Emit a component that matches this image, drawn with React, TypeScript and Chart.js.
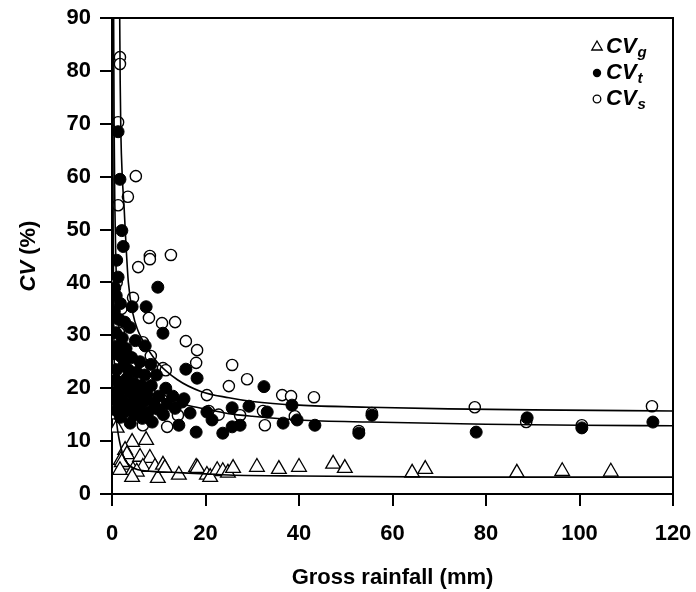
import React, { useEffect, useRef } from "react";
import { Chart, registerables } from "chart.js";

Chart.register(...registerables);

// ---- data ----
const cvgX = [0.8, 1.2, 0.9, 1.0, 4.3, 7.3, 2.8, 3.2, 1.9, 2.4, 2.1, 1.7, 6.0, 8.1, 4.5, 6.6, 5.3, 4.3, 9.8, 9.2, 10.9, 11.3, 14.3, 18.0, 18.3, 20.3, 21.0, 22.5, 23.7, 24.8, 25.9, 31.0, 35.7, 40.0, 47.3, 49.8, 64.2, 67.0, 86.6, 96.3, 106.7];
const cvgY = [23.0, 17.0, 15.0, 12.5, 9.8, 10.2, 8.3, 7.5, 6.4, 5.5, 6.0, 4.5, 7.0, 6.8, 4.5, 5.1, 4.2, 3.2, 3.0, 5.1, 5.5, 4.9, 3.6, 5.1, 4.9, 3.6, 3.2, 4.5, 4.3, 4.0, 4.9, 5.1, 4.7, 5.1, 5.7, 4.9, 4.0, 4.7, 4.0, 4.3, 4.2];

const cvtX = [1.3, 1.7, 2.1, 2.4, 1.0, 1.3, 0.6, 9.8, 0.9, 1.8, 4.3, 7.3, 0.5, 1.5, 2.7, 3.8, 10.9, 0.8, 2.2, 5.0, 7.1, 1.2, 3.0, 0.6, 1.9, 4.2, 6.0, 8.3, 2.6, 15.8, 1.0, 3.5, 5.3, 7.0, 9.5, 3.2, 18.2, 0.7, 1.8, 4.6, 6.3, 8.4, 11.5, 2.5, 32.5, 1.2, 3.8, 5.6, 7.5, 10.0, 13.0, 0.6, 2.2, 15.4, 4.5, 6.8, 8.9, 15.0, 11.8, 1.5, 3.3, 5.8, 9.9, 13.5, 25.7, 29.3, 38.5, 0.9, 2.6, 7.8, 16.7, 20.3, 33.2, 4.8, 11.0, 55.6, 1.8, 6.5, 21.4, 39.6, 88.8, 3.9, 8.6, 14.3, 36.6, 115.7, 25.7, 27.4, 43.4, 100.5, 18.0, 23.7, 52.8, 77.9];
const cvtY = [68.5, 59.5, 49.8, 46.8, 44.2, 41.0, 39.0, 39.1, 37.5, 36.0, 35.4, 35.4, 34.5, 33.0, 32.5, 31.5, 30.4, 30.5, 29.5, 29.0, 28.0, 28.0, 27.5, 26.5, 26.0, 25.8, 25.0, 24.5, 24.5, 23.6, 23.5, 23.5, 23.0, 22.5, 22.5, 21.9, 21.9, 21.5, 21.0, 21.0, 20.5, 20.5, 20.0, 20.0, 20.3, 19.5, 19.2, 19.0, 18.8, 18.5, 18.5, 18.0, 17.8, 18.0, 17.5, 17.5, 17.2, 17.4, 17.0, 16.8, 16.5, 16.2, 16.0, 16.2, 16.3, 16.6, 16.8, 15.8, 15.5, 15.5, 15.3, 15.5, 15.5, 15.0, 15.0, 14.9, 14.5, 14.3, 14.0, 14.0, 14.4, 13.4, 13.6, 13.0, 13.4, 13.6, 12.7, 13.0, 13.0, 12.5, 11.7, 11.5, 11.5, 11.7];

const cvsX = [1.7, 1.7, 1.3, 5.1, 3.4, 1.3, 8.1, 8.1, 12.6, 5.6, 1.0, 4.5, 2.0, 7.9, 10.7, 13.5, 1.5, 6.6, 15.8, 18.2, 3.0, 8.3, 18.0, 25.7, 10.9, 11.5, 2.5, 28.9, 25.0, 4.0, 1.0, 8.0, 20.3, 36.4, 38.3, 43.2, 10.7, 5.5, 20.7, 32.3, 77.6, 115.5, 55.6, 14.1, 27.4, 39.1, 22.8, 88.6, 100.5, 32.7, 6.6, 11.8, 52.8];
const cvsY = [82.6, 81.3, 70.3, 60.1, 56.2, 54.6, 45.0, 44.4, 45.2, 42.9, 40.0, 37.1, 35.0, 33.3, 32.3, 32.5, 30.5, 28.7, 28.9, 27.2, 26.5, 26.1, 24.8, 24.4, 23.8, 23.4, 23.0, 21.7, 20.4, 20.0, 19.0, 19.5, 18.7, 18.7, 18.5, 18.3, 17.8, 16.0, 15.7, 15.7, 16.4, 16.6, 15.3, 14.9, 14.9, 14.7, 15.0, 13.6, 13.0, 13.0, 13.0, 12.7, 11.9];

// fitted curves
const fitSX = [1.65, 1.75, 1.9, 2.2, 2.6, 3.0, 3.5, 4.5, 5.5, 6.6, 9.6, 14, 19, 25, 30, 40, 55, 72, 90, 120];
const fitSY = [90, 78, 68, 60, 54, 47, 40, 34, 31, 29, 25, 21.6, 19.4, 18.2, 17.5, 16.8, 16.4, 16.1, 15.9, 15.7];
const fitTX = [0.35, 0.45, 0.6, 0.8, 1.1, 1.5, 2.0, 2.8, 4, 5.5, 7.5, 10, 13, 17, 21, 25, 30, 40, 55, 80, 100, 120];
const fitTY = [90, 70, 55, 45, 37, 31.5, 27.5, 24.5, 22, 20.5, 19.3, 18.4, 17.5, 16.6, 15.9, 15.2, 14.7, 14.0, 13.6, 13.2, 13.0, 12.9];
const fitGX = [0.15, 0.25, 0.4, 0.6, 0.9, 1.3, 1.7, 2.3, 2.8, 4, 5.6, 8, 12.8, 20, 25, 40, 72, 120];
const fitGY = [90, 50, 30, 20, 14.5, 11.5, 9.6, 7.5, 6.4, 5.2, 4.6, 4.3, 4.1, 3.8, 3.6, 3.4, 3.2, 3.2];

const xTicks = [0, 20, 40, 60, 80, 100, 120];
const yTicks = [0, 10, 20, 30, 40, 50, 60, 70, 80, 90];
const xTitle = "Gross rainfall (mm)";
const legendSubs = ["g", "t", "s"];

const pts = (xs: number[], ys: number[]) => xs.map((x, i) => ({ x, y: ys[i] }));

const FONT = '"Liberation Sans", Arial, sans-serif';

const deco = {
  id: "deco",
  afterDraw(chart: any) {
    const { ctx, chartArea: a } = chart;
    ctx.save();
    ctx.strokeStyle = "#000";
    ctx.lineWidth = 2;
    ctx.beginPath();
    ctx.moveTo(a.left, a.top);
    ctx.lineTo(a.right, a.top);
    ctx.lineTo(a.right, a.bottom);
    ctx.stroke();

    ctx.fillStyle = "#000";
    ctx.textBaseline = "middle";
    ctx.textAlign = "center";
    ctx.font = `bold 22px ${FONT}`;
    ctx.fillText(xTitle, (a.left + a.right) / 2, 578);

    // y title: italic CV + " (%)"
    ctx.save();
    ctx.translate(29, (a.top + a.bottom) / 2);
    ctx.rotate(-Math.PI / 2);
    ctx.textAlign = "left";
    ctx.font = `italic bold 22px ${FONT}`;
    const w1 = ctx.measureText("CV").width;
    ctx.font = `bold 22px ${FONT}`;
    const w2 = ctx.measureText(" (%)").width;
    const sx = -(w1 + w2) / 2;
    ctx.font = `italic bold 22px ${FONT}`;
    ctx.fillText("CV", sx, 0);
    ctx.font = `bold 22px ${FONT}`;
    ctx.fillText(" (%)", sx + w1, 0);
    ctx.restore();

    // legend
    const rows = [47, 73, 99];
    const mx = 597;
    ctx.lineWidth = 1.3;
    ctx.strokeStyle = "#000";
    rows.forEach((ry, i) => {
      ctx.beginPath();
      if (i === 0) {
        const r = 6;
        ctx.moveTo(mx, ry - r);
        ctx.lineTo(mx + r * 0.866, ry + r * 0.5);
        ctx.lineTo(mx - r * 0.866, ry + r * 0.5);
        ctx.closePath();
        ctx.fillStyle = "#fff";
        ctx.fill();
        ctx.stroke();
      } else if (i === 1) {
        ctx.arc(mx, ry, 4.2, 0, Math.PI * 2);
        ctx.fillStyle = "#000";
        ctx.fill();
      } else {
        ctx.arc(mx, ry, 3.8, 0, Math.PI * 2);
        ctx.fillStyle = "#fff";
        ctx.fill();
        ctx.stroke();
      }
      ctx.fillStyle = "#000";
      ctx.textAlign = "left";
      ctx.font = `italic bold 22px ${FONT}`;
      ctx.fillText("CV", 606, ry);
      const cw = ctx.measureText("CV").width;
      ctx.font = `italic bold 15px ${FONT}`;
      ctx.fillText(legendSubs[i], 606 + cw + 1, ry + 6);
    });
    ctx.restore();
  },
};

export default function App() {
  const ref = useRef<HTMLCanvasElement | null>(null);
  useEffect(() => {
    if (!ref.current) return;
    const curve = (xs: number[], ys: number[]) => ({
      type: "line" as const,
      data: pts(xs, ys),
      showLine: true,
      borderColor: "#000",
      borderWidth: 1.6,
      pointRadius: 0,
      cubicInterpolationMode: "monotone" as const,
      fill: false,
      order: 0,
    });
    const chart = new Chart(ref.current, {
      type: "scatter",
      data: {
        datasets: [
          curve(fitSX, fitSY),
          curve(fitTX, fitTY),
          curve(fitGX, fitGY),
          {
            label: "CVt",
            data: pts(cvtX, cvtY),
            pointStyle: "circle",
            pointRadius: 6,
            backgroundColor: "#000",
            borderColor: "#000",
            borderWidth: 1,
            order: 1,
          },
          {
            label: "CVs",
            data: pts(cvsX, cvsY),
            pointStyle: "circle",
            pointRadius: 5.6,
            backgroundColor: "#fff",
            borderColor: "#000",
            borderWidth: 1.4,
            order: 2,
          },
          {
            label: "CVg",
            data: pts(cvgX, cvgY),
            pointStyle: "triangle",
            pointRadius: 8.5,
            backgroundColor: "#fff",
            borderColor: "#000",
            borderWidth: 1.3,
            order: 3,
          },
        ],
      },
      options: {
        responsive: false,
        animation: false,
        events: [],
        layout: { padding: { top: 18, right: 23, left: 0, bottom: 0 } },
        plugins: { legend: { display: false }, tooltip: { enabled: false } },
        scales: {
          x: {
            type: "linear",
            min: 0,
            max: 120,
            afterFit: (s: any) => { s.height = 98; s.paddingLeft = 0; s.paddingRight = 0; },
            afterBuildTicks: (s: any) => { s.ticks = xTicks.map((v) => ({ value: v })); },
            grid: { drawOnChartArea: false, drawTicks: true, tickLength: 12, color: "#000", lineWidth: 2 },
            border: { display: true, color: "#000", width: 2 },
            ticks: { color: "#000", font: { family: FONT, size: 22, weight: "bold" }, padding: 15, maxRotation: 0 },
          },
          y: {
            type: "linear",
            min: 0,
            max: 90,
            afterFit: (s: any) => { s.width = 112; s.paddingTop = 0; s.paddingBottom = 0; },
            afterBuildTicks: (s: any) => { s.ticks = yTicks.map((v) => ({ value: v })); },
            grid: { drawOnChartArea: false, drawTicks: true, tickLength: 12, color: "#000", lineWidth: 2 },
            border: { display: true, color: "#000", width: 2 },
            ticks: { color: "#000", font: { family: FONT, size: 22, weight: "bold" }, padding: 9 },
          },
        },
      },
      plugins: [deco],
    } as any);
    return () => chart.destroy();
  }, []);
  return (
    <div style={{ position: "absolute", left: 0, top: 0, width: 696, height: 592, background: "#fff" }}>
      <canvas ref={ref} width={696} height={592} style={{ display: "block" }} />
    </div>
  );
}
